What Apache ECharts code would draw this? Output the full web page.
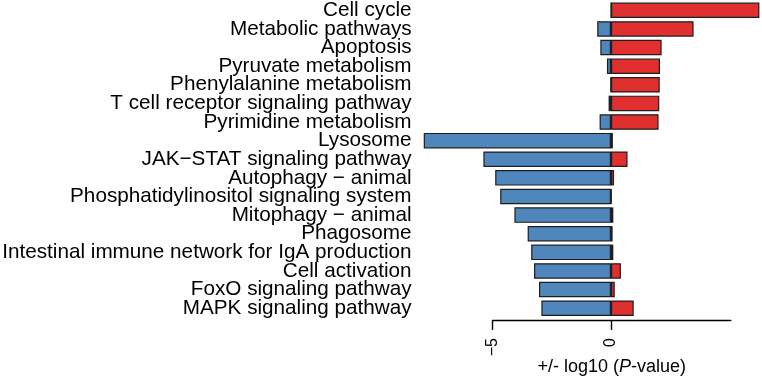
<!DOCTYPE html>
<html>
<head>
<meta charset="utf-8">
<script src="https://cdn.jsdelivr.net/npm/echarts@6/dist/echarts.min.js"></script>
<style>
  html, body { margin: 0; padding: 0; background: #fff; }
  #chart { width: 762px; height: 380px; }
</style>
</head>
<body>
<div id="chart"></div>
<script>
// pathways, top to bottom
const categories = [
  'Cell cycle', 'Metabolic pathways', 'Apoptosis', 'Pyruvate metabolism',
  'Phenylalanine metabolism', 'T cell receptor signaling pathway',
  'Pyrimidine metabolism', 'Lysosome', 'JAK\u2212STAT signaling pathway',
  'Autophagy \u2212 animal', 'Phosphatidylinositol signaling system',
  'Mitophagy \u2212 animal', 'Phagosome',
  'Intestinal immune network for IgA production', 'Cell activation',
  'FoxO signaling pathway', 'MAPK signaling pathway'
];
// down-regulated (blue, negative side)
const downValues = [0, -0.58, -0.45, -0.17, -0.02, -0.10, -0.48, -7.91, -5.39,
  -4.89, -4.68, -4.08, -3.52, -3.37, -3.25, -3.04, -2.94];
// up-regulated (red, positive side)
const upValues = [6.27, 3.49, 2.14, 2.07, 2.06, 2.04, 2.01, 0.08, 0.70,
  0.13, 0.03, 0.10, 0.07, 0.10, 0.42, 0.16, 0.96];
const xTicks = [-5, 0];

const font = 'Liberation Sans, Arial, Helvetica, sans-serif';
const chart = echarts.init(document.getElementById('chart'));

const option = {
  animation: false,
  grid: [
    { left: 421.6, right: 1.9, top: 1, bottom: 62.5, outerBoundsMode: 'none' },
    { left: 492.65, right: 31.2, top: 1, bottom: 60, outerBoundsMode: 'none' }
  ],
  xAxis: [
    { gridIndex: 0, type: 'value', min: -8, max: 6.3, show: false },
    {
      gridIndex: 1, type: 'value', min: -5, max: 5.06,
      axisLine: { onZero: false, lineStyle: { color: '#000', width: 1.4 } },
      axisTick: { customValues: xTicks, length: 10, lineStyle: { color: '#000', width: 1.4 } },
      axisLabel: {
        customValues: xTicks, rotate: 90, margin: 18,
        color: '#000', fontSize: 16, fontFamily: font,
        formatter: v => String(v).replace('-', '\u2212')
      },
      splitLine: { show: false },
      name: '+/- log10 ({i|P}-value)',
      nameLocation: 'middle',
      nameGap: 38,
      nameMoveOverlap: false,
      nameTextStyle: {
        color: '#000', fontSize: 18, fontFamily: font,
        rich: { i: { fontStyle: 'italic', color: '#000', fontSize: 18, fontFamily: font } }
      }
    }
  ],
  yAxis: [
    {
      gridIndex: 0, type: 'category', data: categories, inverse: true,
      axisLine: { show: false }, axisTick: { show: false },
      axisLabel: { interval: 0, color: '#000', fontSize: 20.7, fontFamily: font, margin: 10 }
    },
    { gridIndex: 1, type: 'value', min: 0, max: 1, show: false }
  ],
  series: [
    {
      name: 'down', type: 'bar', data: downValues,
      xAxisIndex: 0, yAxisIndex: 0,
      barWidth: 15.5, barGap: '-100%',
      itemStyle: { color: '#4f87bd', borderColor: '#1e1e1e', borderWidth: 1.2 }
    },
    {
      name: 'up', type: 'bar', data: upValues,
      xAxisIndex: 0, yAxisIndex: 0,
      barWidth: 15.5, barGap: '-100%',
      itemStyle: { color: '#e02f2f', borderColor: '#1e1e1e', borderWidth: 1.2 }
    }
  ]
};

chart.setOption(option);
</script>
</body>
</html>
